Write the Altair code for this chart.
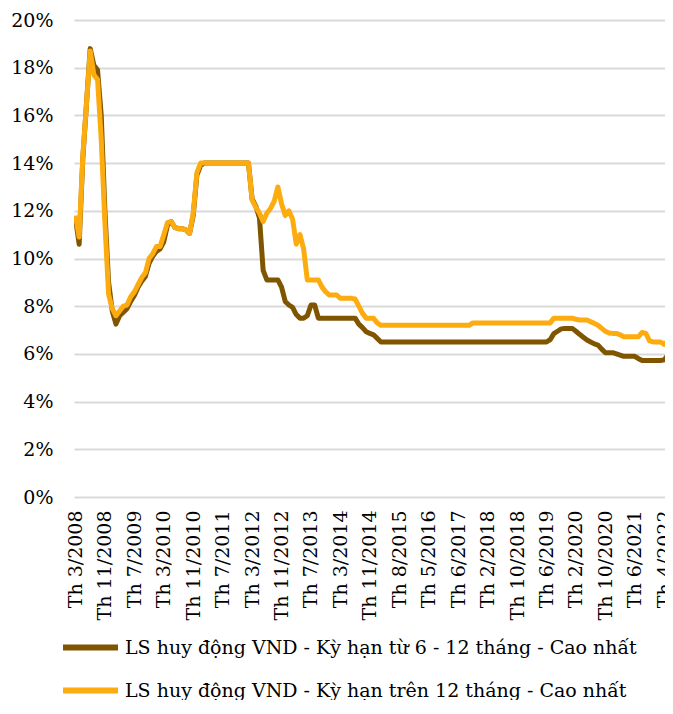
import altair as alt
import pandas as pd

tick_labels = ["Th 3/2008", "Th 11/2008", "Th 7/2009", "Th 3/2010", "Th 11/2010",
               "Th 7/2011", "Th 3/2012", "Th 11/2012", "Th 7/2013", "Th 3/2014",
               "Th 11/2014", "Th 8/2015", "Th 5/2016", "Th 6/2017", "Th 2/2018",
               "Th 10/2018", "Th 6/2019", "Th 2/2020", "Th 10/2020", "Th 6/2021",
               "Th 4/2022"]
tick_positions = [0, 8, 16, 24, 32, 40, 48, 56, 64, 72, 80, 88, 96, 104, 112,
                  120, 128, 136, 144, 152, 160]

series_names = ["LS huy động VND - Kỳ hạn từ 6 - 12 tháng - Cao nhất",
                "LS huy động VND - Kỳ hạn trên 12 tháng - Cao nhất"]
series_colors = ["#7F5500", "#FDAC10"]

# Kỳ hạn từ 6 - 12 tháng (%)
rate_6_12 = [
    11.7, 10.6, 14.2, 16.5, 18.8, 18.1, 17.9, 16.0, 12.0, 9.0,
    7.8, 7.25, 7.6, 7.75, 7.9, 8.2, 8.45, 8.8, 9.05, 9.25,
    9.8, 10.1, 10.3, 10.4, 10.7, 11.4, 11.55, 11.3, 11.25, 11.25,
    11.2, 11.05, 11.8, 13.5, 13.9, 14.0, 14.0, 14.0, 14.0, 14.0,
    14.0, 14.0, 14.0, 14.0, 14.0, 14.0, 14.0, 14.0, 12.5, 12.2,
    11.7, 9.5, 9.1, 9.1, 9.1, 9.1, 8.8, 8.2, 8.05, 7.95,
    7.65, 7.5, 7.5, 7.6, 8.05, 8.05, 7.5, 7.5, 7.5, 7.5,
    7.5, 7.5, 7.5, 7.5, 7.5, 7.5, 7.5, 7.25, 7.1, 6.93,
    6.86, 6.8, 6.65, 6.5, 6.5, 6.5, 6.5, 6.5, 6.5, 6.5,
    6.5, 6.5, 6.5, 6.5, 6.5, 6.5, 6.5, 6.5, 6.5, 6.5,
    6.5, 6.5, 6.5, 6.5, 6.5, 6.5, 6.5, 6.5, 6.5, 6.5,
    6.5, 6.5, 6.5, 6.5, 6.5, 6.5, 6.5, 6.5, 6.5, 6.5,
    6.5, 6.5, 6.5, 6.5, 6.5, 6.5, 6.5, 6.5, 6.5, 6.6,
    6.85, 6.95, 7.05, 7.07, 7.07, 7.07, 6.95, 6.82, 6.7, 6.58,
    6.5, 6.42, 6.37, 6.2, 6.05, 6.05, 6.05, 6.0, 5.95, 5.9,
    5.9, 5.9, 5.9, 5.8, 5.72, 5.72, 5.72, 5.72, 5.72, 5.72,
    5.75, 5.95,
]

# Kỳ hạn trên 12 tháng (%)
rate_over_12 = [
    11.8, 10.9, 14.3, 16.5, 18.7, 17.7, 17.5, 15.0, 11.5, 8.5,
    7.9, 7.6, 7.8, 8.0, 8.05, 8.4, 8.6, 8.9, 9.2, 9.4,
    10.0, 10.2, 10.5, 10.5, 11.0, 11.5, 11.55, 11.3, 11.25, 11.25,
    11.2, 11.05, 11.9, 13.6, 14.0, 14.0, 14.0, 14.0, 14.0, 14.0,
    14.0, 14.0, 14.0, 14.0, 14.0, 14.0, 14.0, 14.0, 12.45, 12.15,
    11.9, 11.55, 11.9, 12.1, 12.4, 13.0, 12.3, 11.8, 12.0, 11.65,
    10.6, 11.0, 10.4, 9.1, 9.1, 9.1, 9.1, 8.8, 8.6, 8.47,
    8.47, 8.47, 8.33, 8.33, 8.33, 8.33, 8.3, 8.0, 7.7, 7.5,
    7.5, 7.49, 7.3, 7.2, 7.2, 7.2, 7.2, 7.2, 7.2, 7.2,
    7.2, 7.2, 7.2, 7.2, 7.2, 7.2, 7.2, 7.2, 7.2, 7.2,
    7.2, 7.2, 7.2, 7.2, 7.2, 7.2, 7.2, 7.2, 7.3, 7.3,
    7.3, 7.3, 7.3, 7.3, 7.3, 7.3, 7.3, 7.3, 7.3, 7.3,
    7.3, 7.3, 7.3, 7.3, 7.3, 7.3, 7.3, 7.3, 7.3, 7.3,
    7.5, 7.5, 7.5, 7.5, 7.5, 7.5, 7.45, 7.42, 7.42, 7.42,
    7.35, 7.28, 7.2, 7.07, 6.95, 6.88, 6.86, 6.86, 6.8, 6.72,
    6.72, 6.72, 6.72, 6.72, 6.9, 6.86, 6.55, 6.5, 6.5, 6.5,
    6.4, 6.55,
]

n = len(rate_6_12)
df = pd.DataFrame({
    "i": list(range(n)) + list(range(len(rate_over_12))),
    "v": rate_6_12 + rate_over_12,
    "s": [series_names[0]] * n + [series_names[1]] * len(rate_over_12),
})

FONT = "DejaVu Serif"
FS = 19
label_array = "[" + ",".join("'" + t + "'" for t in tick_labels) + "]"

x_enc = alt.X(
    "i:Q",
    scale=alt.Scale(domain=[-0.4, 160.2], nice=False, zero=False),
    axis=alt.Axis(
        values=tick_positions,
        labelExpr=label_array + "[round(datum.value / 8)]",
        labelAngle=270, labelFont=FONT, labelFontSize=FS, labelColor="#000000",
        labelPadding=13, grid=False, ticks=False, domain=False, title=None,
        labelOverlap=False, labelBound=False, labelFlush=False,
    ),
)
y_enc = alt.Y(
    "v:Q",
    scale=alt.Scale(domain=[0, 20], nice=False),
    axis=alt.Axis(
        values=list(range(0, 21, 2)),
        labelExpr="datum.value + '%'",
        labelFont=FONT, labelFontSize=FS, labelColor="#000000", labelPadding=21,
        gridColor="#D9D9D9", gridWidth=2, domain=False, ticks=False, title=None,
    ),
)
color_enc = alt.Color(
    "s:N",
    scale=alt.Scale(domain=series_names, range=series_colors),
    legend=alt.Legend(
        orient="none", legendX=-14, legendY=597, direction="vertical",
        title=None, symbolType="stroke", symbolSize=3025, symbolStrokeWidth=6,
        labelFont=FONT, labelFontSize=FS, labelColor="#000000", labelLimit=0,
        rowPadding=-14, labelOffset=4,
    ),
)

base = alt.Chart(df).mark_line(strokeWidth=5, clip=True, strokeJoin="round").encode(
    x=x_enc, y=y_enc, color=color_enc
)
brown = base.transform_filter(alt.datum.s == series_names[0])
orange = base.transform_filter(alt.datum.s == series_names[1])

chart = alt.layer(brown, orange).properties(
    width=591, height=477,
    padding={"left": 66, "top": 12, "right": 0, "bottom": 203},
    autosize=alt.AutoSizeParams(type="none"),
).configure(background="#FFFFFF", font=FONT).configure_view(stroke=None)

chart.save("out.html", embed_options={"renderer": "svg", "actions": False})
